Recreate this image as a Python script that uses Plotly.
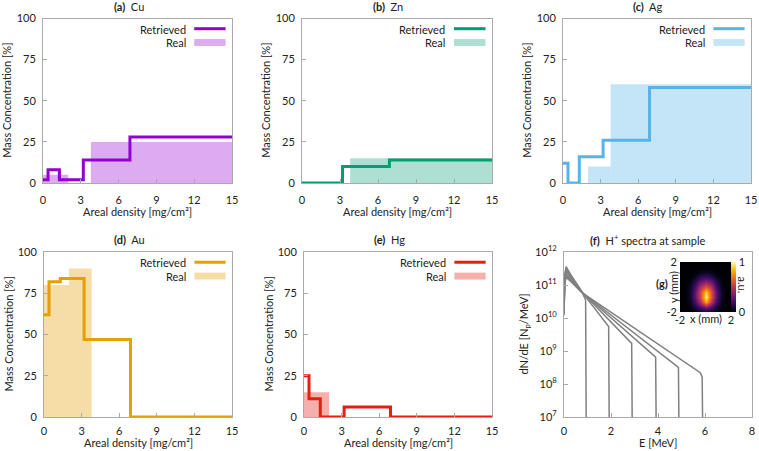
import plotly.graph_objects as go

# layer boundaries along areal density [mg/cm^2]
retrieved_edges = [0, 0.4, 1.3, 3.2, 6.9, 15]
real_edges = [0, 2.0, 3.8, 15]

elements = ["Cu", "Zn", "Ag", "Au", "Hg"]
panel_tags = ["(a)", "(b)", "(c)", "(d)", "(e)"]

retrieved_cu = [2, 8, 2, 14, 28]
retrieved_zn = [0, 0, 0, 10, 14]
retrieved_ag = [12, 0, 16, 26, 58]
retrieved_au = [62, 82, 84, 47, 0]
retrieved_hg = [25, 11, 0, 6, 0]

real_cu = [5, 0, 25]
real_zn = [0, 0, 15]
real_ag = [0, 10, 60]
real_au = [80, 90, 0]
real_hg = [15, 0, 0]

x_ticks = [0, 3, 6, 9, 12, 15]
y_ticks = [0, 25, 50, 75, 100]

# proton spectra (E [MeV], dN/dE [Np/MeV])
spec_e1 = [0, 0.03, 0.09, 0.3, 0.75, 0.92, 0.95]
spec_n1 = [1.5e10, 2.0e11, 3.6e11, 2.0e11, 6.5e10, 3.5e10, 1e6]
spec_e2 = [0, 0.03, 0.09, 0.3, 0.75, 1.9, 1.93]
spec_n2 = [1.5e10, 1.8e11, 3.1e11, 1.8e11, 6.3e10, 5.5e9, 1e6]
spec_e3 = [0, 0.03, 0.09, 0.3, 0.75, 2.88, 2.91]
spec_n3 = [1.5e10, 1.6e11, 2.6e11, 1.6e11, 6.2e10, 1.7e9, 1e6]
spec_e4 = [0, 0.03, 0.09, 0.3, 0.75, 3.9, 3.93]
spec_n4 = [1.4e10, 1.4e11, 2.2e11, 1.45e11, 6.1e10, 6.5e8, 1e6]
spec_e5 = [0, 0.03, 0.09, 0.3, 0.75, 4.87, 4.9]
spec_n5 = [1.3e10, 1.25e11, 1.95e11, 1.35e11, 6.0e10, 3.2e8, 1e6]
spec_e6 = [0, 0.03, 0.09, 0.3, 0.75, 5.8, 5.88, 5.91]
spec_n6 = [1.2e10, 1.1e11, 1.7e11, 1.25e11, 6.0e10, 2.2e8, 1.6e8, 1e6]

# beam spot at sample, inset (g)
spot_x = [-2, -1.6, -1.2, -0.8, -0.4, 0, 0.4, 0.8, 1.2, 1.6, 2]
spot_y = [-2, -1.6, -1.2, -0.8, -0.4, 0, 0.4, 0.8, 1.2, 1.6, 2]
spot_z = [
    [0, 0, 0, 0.02, 0.05, 0.07, 0.05, 0.02, 0, 0, 0],
    [0, 0, 0.02, 0.10, 0.22, 0.35, 0.25, 0.10, 0.02, 0, 0],
    [0, 0, 0.05, 0.22, 0.45, 0.80, 0.50, 0.22, 0.05, 0, 0],
    [0, 0, 0.07, 0.28, 0.55, 0.97, 0.62, 0.28, 0.07, 0, 0],
    [0, 0, 0.07, 0.28, 0.55, 0.88, 0.60, 0.28, 0.07, 0, 0],
    [0, 0, 0.05, 0.22, 0.45, 0.62, 0.48, 0.22, 0.05, 0, 0],
    [0, 0, 0.03, 0.15, 0.30, 0.40, 0.32, 0.15, 0.03, 0, 0],
    [0, 0, 0, 0.05, 0.15, 0.20, 0.15, 0.05, 0, 0, 0],
    [0, 0, 0, 0, 0.03, 0.05, 0.03, 0, 0, 0, 0],
    [0, 0, 0, 0, 0, 0, 0, 0, 0, 0, 0],
    [0, 0, 0, 0, 0, 0, 0, 0, 0, 0, 0],
]

line_colors = ["#9400D3", "#009E73", "#56B4E9", "#E69F00", "#E51E10"]
fill_colors = ["rgba(148,0,211,0.33)", "rgba(0,158,115,0.32)", "rgba(86,180,233,0.35)",
               "rgba(230,159,0,0.35)", "rgba(229,30,16,0.35)"]

retrieved = [retrieved_cu, retrieved_zn, retrieved_ag, retrieved_au, retrieved_hg]
real = [real_cu, real_zn, real_ag, real_au, real_hg]

W, H = 759, 451
# panel boxes in pixels: (left, right, top, bottom)
boxes = [(43, 232, 18.5, 183), (302, 492, 18.5, 183), (563, 751, 18.5, 183),
         (44, 232, 252, 417), (304, 492, 252, 417), (564, 752, 252, 417)]

FONT = "Lato, 'Open Sans', sans-serif"
TXT = "#222222"
XTITLE = "Areal density [mg/cm²]"

fig = go.Figure()
layout = {}
annotations = []
shapes = []


def axis_base():
    return dict(showline=True, mirror=True, linecolor="#aaaaaa", linewidth=1,
                ticks="inside", ticklen=4, tickcolor="#aaaaaa", showgrid=False,
                zeroline=False, automargin=False,
                tickfont=dict(size=11, color=TXT, family=FONT))


for i, (l, r, t, b) in enumerate(boxes):
    n = i + 1
    xa = axis_base()
    ya = axis_base()
    xa.update(domain=[l / W, r / W], anchor=f"y{n}", ticklabelstandoff=7 if i < 3 else 4)
    ya.update(domain=[1 - b / H, 1 - t / H], anchor=f"x{n}", ticklabelstandoff=4)
    if i < 5:
        xa.update(range=[0, 15], tickvals=x_ticks)
        ya.update(range=[0, 100], tickvals=y_ticks)
    else:
        xa.update(range=[0, 8], tickvals=[0, 2, 4, 6, 8])
        ya.update(type="log", range=[7, 12],
                  tickvals=[10 ** k for k in range(7, 13)],
                  ticktext=[f"10<sup>{k}</sup>" for k in range(7, 13)])
    layout["xaxis" if n == 1 else f"xaxis{n}"] = xa
    layout["yaxis" if n == 1 else f"yaxis{n}"] = ya

# element panels
for i, el in enumerate(elements):
    n = i + 1
    xr = "x" if n == 1 else f"x{n}"
    yr = "y" if n == 1 else f"y{n}"
    widths = [real_edges[k + 1] - real_edges[k] for k in range(len(real[i]))]
    centers = [real_edges[k] + widths[k] / 2 for k in range(len(real[i]))]
    fig.add_trace(go.Bar(x=centers, y=real[i], width=widths, marker=dict(color=fill_colors[i], line=dict(width=0)),
                         xaxis=xr, yaxis=yr, showlegend=False))
    fig.add_trace(go.Scatter(x=retrieved_edges, y=retrieved[i] + [retrieved[i][-1]], mode="lines",
                             line=dict(color=line_colors[i], width=3, shape="hv"),
                             xaxis=xr, yaxis=yr, showlegend=False))

    # legend drawn by hand (text left of the sample, gnuplot style)
    dx, dy = f"{xr} domain", f"{yr} domain"
    annotations.append(dict(text="Retrieved", xref=dx, yref=dy, x=0.765, y=0.934,
                            xanchor="right", yanchor="middle", showarrow=False,
                            font=dict(size=11, color=TXT, family=FONT)))
    annotations.append(dict(text="Real", xref=dx, yref=dy, x=0.765, y=0.853,
                            xanchor="right", yanchor="middle", showarrow=False,
                            font=dict(size=11, color=TXT, family=FONT)))
    shapes.append(dict(type="line", xref=dx, yref=dy, x0=0.80, x1=0.966, y0=0.938, y1=0.938,
                       line=dict(color=line_colors[i], width=3)))
    shapes.append(dict(type="rect", xref=dx, yref=dy, x0=0.80, x1=0.966, y0=0.833, y1=0.875,
                       fillcolor=fill_colors[i], line=dict(width=0)))

    annotations.append(dict(text=f"<b>{panel_tags[i]}</b>  {el}", xref=dx, yref=dy, x=0.5, y=1,
                            xshift=-9, yshift=12, xanchor="center", yanchor="middle",
                            showarrow=False, font=dict(size=11, color=TXT, family=FONT)))
    annotations.append(dict(text="Mass Concentration [%]", xref=dx, yref=dy, x=0, y=0.5,
                            xshift=-36, textangle=-90, xanchor="center", yanchor="middle",
                            showarrow=False, font=dict(size=11, color=TXT, family=FONT)))
    if i < 3:
        annotations.append(dict(text=XTITLE, xref=dx, yref=dy, x=0.5, y=0,
                                yshift=-28, xanchor="center", yanchor="middle",
                                showarrow=False, font=dict(size=11, color=TXT, family=FONT)))
    else:
        annotations.append(dict(text=XTITLE, xref=dx, yref=dy, x=0.5, y=0,
                                yshift=-33.5, xanchor="center", yanchor="bottom",
                                showarrow=False, font=dict(size=11, color=TXT, family=FONT)))

# spectra panel
spectra = [(spec_e1, spec_n1), (spec_e2, spec_n2), (spec_e3, spec_n3),
           (spec_e4, spec_n4), (spec_e5, spec_n5), (spec_e6, spec_n6)]
for e, nval in spectra:
    fig.add_trace(go.Scatter(x=e, y=nval, mode="lines", line=dict(color="#808080", width=1.5),
                             xaxis="x6", yaxis="y6", showlegend=False))

annotations.append(dict(text="<b>(f)</b>  H<sup>+</sup> spectra at sample", xref="x6 domain", yref="y6 domain",
                        x=0.5, y=1, xshift=-10, yshift=12, xanchor="center", yanchor="middle",
                        showarrow=False, font=dict(size=11, color=TXT, family=FONT)))
annotations.append(dict(text="dN/dE [N<sub>p</sub>/MeV]", xref="x6 domain", yref="y6 domain", x=0, y=0.5,
                        xshift=-40, textangle=-90, xanchor="center", yanchor="middle",
                        showarrow=False, font=dict(size=11, color=TXT, family=FONT)))
annotations.append(dict(text="E [MeV]", xref="x6 domain", yref="y6 domain", x=0.5, y=0,
                        yshift=-33.5, xanchor="center", yanchor="bottom",
                        showarrow=False, font=dict(size=11, color=TXT, family=FONT)))

# inset (g): beam spot
ix0, ix1, iy0, iy1 = 680, 731, 262, 312
fig.add_trace(go.Heatmap(x=spot_x, y=spot_y, z=spot_z, colorscale="Inferno", zmin=0, zmax=1,
                         zsmooth="best", xaxis="x7", yaxis="y7",
                         colorbar=dict(x=ix1 / W, xanchor="left", xpad=0, ypad=0,
                                       y=1 - (iy0 + iy1) / 2 / H, yanchor="middle",
                                       len=(iy1 - iy0) / H, lenmode="fraction", thickness=5,
                                       outlinewidth=0, tickvals=[0, 1], ticktext=["0", "1"],
                                       ticks="", tickfont=dict(size=11, color=TXT, family=FONT))))
layout["xaxis7"] = dict(domain=[ix0 / W, ix1 / W], anchor="y7", range=[-2, 2], tickvals=[-2, 2],
                        ticktext=["-2", "2"], showgrid=False, zeroline=False, showline=False, ticks="",
                        automargin=False, ticklabelstandoff=0,
                        tickfont=dict(size=11, color=TXT, family=FONT))
layout["yaxis7"] = dict(domain=[1 - iy1 / H, 1 - iy0 / H], anchor="x7", range=[-2, 2], tickvals=[-2, 2],
                        ticktext=["-2", "2"], showgrid=False, zeroline=False, showline=False, ticks="",
                        automargin=False, ticklabelstandoff=2,
                        tickfont=dict(size=11, color=TXT, family=FONT))
annotations.append(dict(text="x (mm)", xref="x7 domain", yref="y7 domain", x=0.5, y=0, yshift=-6,
                        xanchor="center", yanchor="middle", showarrow=False,
                        font=dict(size=11, color=TXT, family=FONT)))
annotations.append(dict(text="y (mm)", xref="x7 domain", yref="y7 domain", x=0, y=0.5, xshift=-7,
                        textangle=-90, xanchor="center", yanchor="middle", showarrow=False,
                        font=dict(size=11, color=TXT, family=FONT)))
annotations.append(dict(text="<b>(g)</b>", xref="x7 domain", yref="y7 domain", x=0, y=0.58, xshift=-18,
                        xanchor="center", yanchor="middle", showarrow=False,
                        font=dict(size=11, color=TXT, family=FONT)))
annotations.append(dict(text="a.u.", xref="x7 domain", yref="y7 domain", x=1, y=0.55, xshift=11,
                        textangle=90, xanchor="center", yanchor="middle", showarrow=False,
                        font=dict(size=11, color=TXT, family=FONT)))

fig.update_layout(
    template="none",
    width=W, height=H,
    margin=dict(l=0, r=0, t=0, b=0, autoexpand=False),
    paper_bgcolor="white", plot_bgcolor="white",
    barmode="overlay",
    font=dict(family=FONT, size=11, color=TXT),
    annotations=annotations, shapes=shapes,
    **layout,
)

# drop the browser's default 8px body margin so the figure sits at the window origin
fig.write_html("out.html", config={"displayModeBar": False},
               post_script="document.body.style.margin='0';")
